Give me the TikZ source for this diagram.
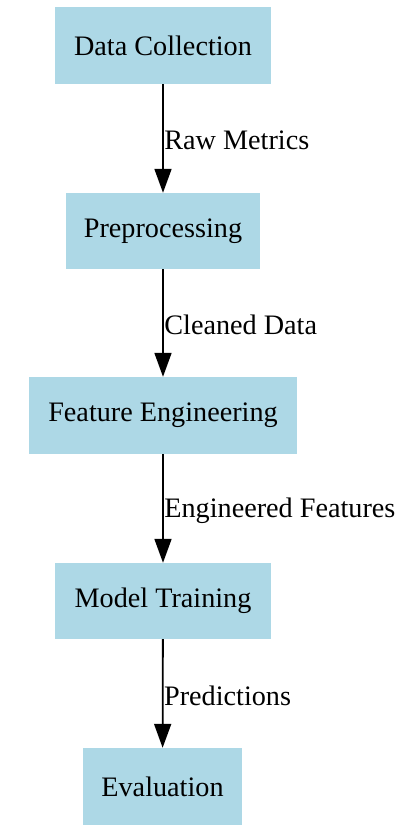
\documentclass[tikz,border=0pt]{standalone}
\usepackage{fontspec}
\setmainfont{Liberation Serif}
\usetikzlibrary{arrows.meta}
\definecolor{boxblue}{HTML}{ADD8E6}
\begin{document}
\begin{tikzpicture}[x=1pt,y=-1pt,
  stage/.style={rectangle, fill=boxblue, draw=none, inner sep=0pt,
    font=\fontsize{28.2}{34}\selectfont},
  flow/.style={line width=1.8pt, -{Triangle[length=24pt,width=17pt]}},
  tag/.style={anchor=west, inner sep=0pt, xshift=0.5pt,
    font=\fontsize{28.2}{34}\selectfont}]
\useasboundingbox (0,0) rectangle (401,833);
\fill[white] (0,0) rectangle (401,833);

\node[stage, minimum width=216pt, minimum height=77pt] (collect) at (163,45.5) {Data Collection};
\node[stage, minimum width=194pt, minimum height=76pt] (prep) at (163,231) {Preprocessing};
\node[stage, minimum width=268pt, minimum height=77pt] (feat) at (163,415.5) {Feature Engineering};
\node[stage, minimum width=216pt, minimum height=76pt] (train) at (163,601) {Model Training};
\node[stage, minimum width=159pt, minimum height=77pt] (eval) at (162.5,786.5) {Evaluation};

\draw[flow] (collect) -- (prep) node[tag, pos=0.52] {Raw Metrics};
\draw[flow] (prep) -- (feat) node[tag, pos=0.52] {Cleaned Data};
\draw[flow] (feat) -- (train) node[tag, pos=0.52] {Engineered Features};
\draw[flow] (train) -- (eval) node[tag, pos=0.52] {Predictions};
\end{tikzpicture}
\end{document}
